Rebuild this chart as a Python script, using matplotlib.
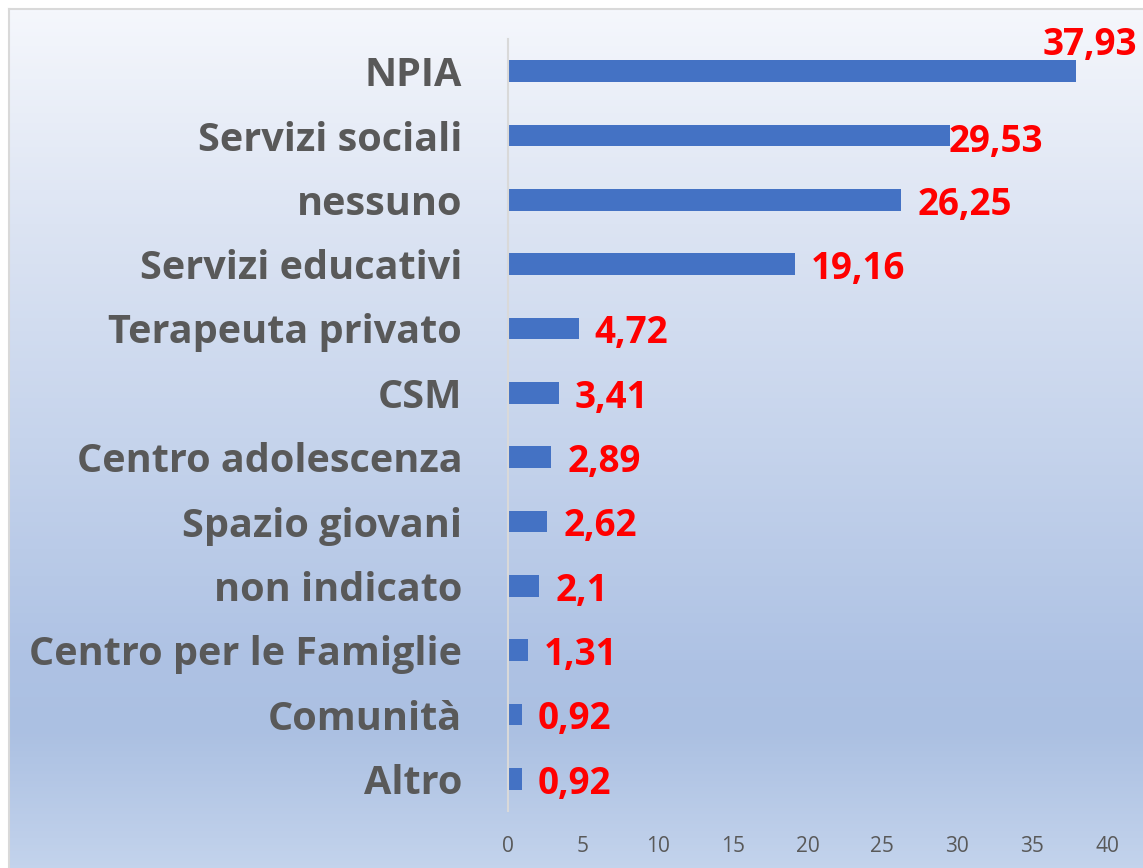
import matplotlib.pyplot as plt
import numpy as np
from matplotlib.colors import LinearSegmentedColormap

categories = ["NPIA", "Servizi sociali", "nessuno", "Servizi educativi",
              "Terapeuta privato", "CSM", "Centro adolescenza", "Spazio giovani",
              "non indicato", "Centro per le Famiglie", "Comunità", "Altro"]
values = [37.93, 29.53, 26.25, 19.16, 4.72, 3.41, 2.89, 2.62, 2.1, 1.31, 0.92, 0.92]
value_labels = ["37,93", "29,53", "26,25", "19,16", "4,72", "3,41", "2,89", "2,62",
                "2,1", "1,31", "0,92", "0,92"]
xticks = [0, 5, 10, 15, 20, 25, 30, 35, 40]

W, H = 1143, 868
fig = plt.figure(figsize=(W / 100, H / 100), dpi=100)
fig.patch.set_facecolor("white")

# gradient panel behind the chart
bg = fig.add_axes([9 / W, 0, 1 - 9 / W, 1 - 9 / H], zorder=0)
stops = [(0.0, "#F5F7FC"), (0.25, "#DCE4F3"), (0.5, "#C6D4EC"),
         (0.76, "#AEC2E4"), (0.84, "#ABC0E2"), (1.0, "#C3D3EC")]
cmap = LinearSegmentedColormap.from_list("bg", stops)
grad = np.linspace(0, 1, 256).reshape(-1, 1)
bg.imshow(grad, aspect="auto", cmap=cmap, extent=[0, 1, 1, 0])
bg.set_xlim(0, 1)
bg.set_ylim(1, 0)
bg.set_xticks([])
bg.set_yticks([])
for s in ["right", "bottom"]:
    bg.spines[s].set_visible(False)
for s in ["top", "left"]:
    bg.spines[s].set_color("#D9D9D9")
    bg.spines[s].set_linewidth(1.5)

ax = fig.add_axes([508 / W, 1 - 811 / H, (1107 - 508) / W, (811 - 39) / H], zorder=1)
ax.patch.set_alpha(0)

y = np.arange(len(categories))
ax.barh(y, values, height=0.34, color="#4472C4")
ax.set_ylim(len(categories) - 0.5, -0.5)
ax.set_xlim(0, 40)
ax.set_xticks(xticks)
ax.set_xticklabels([str(t) for t in xticks], fontsize=15, color="#595959", family="Open Sans")
ax.set_yticks(y)
ax.set_yticklabels(categories, fontsize=28.5, fontweight="bold", color="#595959", family="Open Sans")
ax.tick_params(axis="x", length=0, pad=18)
ax.tick_params(axis="y", length=0, pad=33)
for s in ["top", "right", "bottom"]:
    ax.spines[s].set_visible(False)
ax.spines["left"].set_color("#D9D9D9")
ax.spines["left"].set_linewidth(1.5)

# label offsets in points (most sit just right of the bar end)
offsets = {0: (-24, 19), 1: (-1.5, -5)}
for i, (v, lab) in enumerate(zip(values, value_labels)):
    dx, dy = offsets.get(i, (11.5, -3.5))
    ax.annotate(lab, (v, i), xytext=(dx, dy), textcoords="offset points",
                ha="left", va="center", fontsize=26.5, fontweight="bold",
                color="#FF0000", family="Open Sans", annotation_clip=False)

fig.savefig("out.png", dpi=100)
